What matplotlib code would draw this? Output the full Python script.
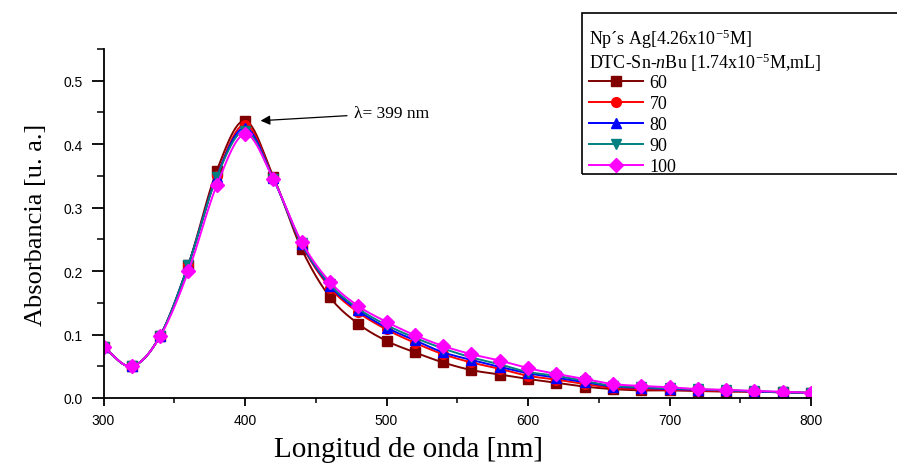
import numpy as np
import matplotlib
matplotlib.use("Agg")
import matplotlib.pyplot as plt
from matplotlib.lines import Line2D
from matplotlib.patches import Rectangle
from matplotlib.ticker import MultipleLocator

plt.rcParams['mathtext.fontset'] = 'custom'
plt.rcParams['mathtext.rm'] = 'Liberation Serif'
plt.rcParams['mathtext.it'] = 'Liberation Serif:italic'

# ---------------- data ----------------
wavelength = [300, 320, 340, 360, 380, 400, 420, 440, 460, 480, 500, 520, 540,
              560, 580, 600, 620, 640, 660, 680, 700, 720, 740, 760, 780, 800]

abs_60 = [0.080, 0.050, 0.098, 0.210, 0.358, 0.437, 0.349, 0.235, 0.159, 0.117, 0.090, 0.072, 0.056,
          0.044, 0.037, 0.030, 0.024, 0.018, 0.014, 0.012, 0.012, 0.011, 0.010, 0.010, 0.009, 0.008]
abs_70 = [0.080, 0.050, 0.098, 0.210, 0.350, 0.431, 0.347, 0.242, 0.174, 0.135, 0.108, 0.087, 0.069,
          0.056, 0.046, 0.035, 0.029, 0.022, 0.016, 0.014, 0.013, 0.012, 0.011, 0.010, 0.009, 0.008]
abs_80 = [0.080, 0.050, 0.098, 0.210, 0.349, 0.426, 0.346, 0.243, 0.177, 0.138, 0.111, 0.091, 0.072,
          0.060, 0.049, 0.039, 0.032, 0.025, 0.018, 0.016, 0.014, 0.013, 0.012, 0.010, 0.009, 0.008]
abs_90 = [0.080, 0.050, 0.098, 0.210, 0.348, 0.421, 0.345, 0.244, 0.179, 0.141, 0.115, 0.095, 0.078,
          0.064, 0.053, 0.041, 0.035, 0.027, 0.019, 0.017, 0.015, 0.014, 0.012, 0.011, 0.009, 0.008]
abs_100 = [0.080, 0.050, 0.097, 0.200, 0.335, 0.416, 0.345, 0.246, 0.183, 0.145, 0.120, 0.099, 0.082,
           0.069, 0.059, 0.047, 0.038, 0.030, 0.022, 0.019, 0.017, 0.014, 0.013, 0.011, 0.010, 0.008]

series_labels = ['60', '70', '80', '90', '100']
series_values = [abs_60, abs_70, abs_80, abs_90, abs_100]
colors = ['#800000', '#FF0000', '#0000FF', '#008080', '#FF00FF']
markers = ['s', 'o', '^', 'v', 'D']

x_label = 'Longitud de onda [nm]'
y_label = 'Absorbancia [u. a.]'
legend_title = 'Np´s Ag[4.26x10$^{-5}$M]\nDTC-Sn-$\\mathit{n}$Bu [1.74x10$^{-5}$M,mL]'
peak_text = 'λ= 399 nm'


def smooth(x, y, n=12):
    """Catmull-Rom curve through the data points (drawing only)."""
    P = np.column_stack([np.asarray(x, float), np.asarray(y, float)])
    P = np.vstack([2 * P[0] - P[1], P, 2 * P[-1] - P[-2]])
    out = []
    t = np.linspace(0, 1, n, endpoint=False)[:, None]
    for i in range(1, len(P) - 2):
        p0, p1, p2, p3 = P[i - 1], P[i], P[i + 1], P[i + 2]
        seg = 0.5 * ((2 * p1) + (-p0 + p2) * t + (2 * p0 - 5 * p1 + 4 * p2 - p3) * t ** 2
                     + (-p0 + 3 * p1 - 3 * p2 + p3) * t ** 3)
        out.append(seg)
    out.append(P[-2][None, :])
    out = np.vstack(out)
    return out[:, 0], out[:, 1]


fig = plt.figure(figsize=(8.97, 4.64), dpi=100)
ax = fig.add_axes([103.5 / 897, 1 - 399 / 464, (811 - 103.5) / 897, (399 - 50) / 464])

handles = []
for vals, lab, c, m in zip(series_values, series_labels, colors, markers):
    sx, sy = smooth(wavelength, vals)
    ax.plot(sx, sy, color=c, lw=1.4, clip_on=True)
    ax.plot(wavelength, vals, ls='none', marker=m, color=c, markersize=7,
            markeredgecolor=c, clip_on=True)
    handles.append(Line2D([], [], color=c, lw=1.4, marker=m, markersize=7, label=lab))

ax.set_xlim(300, 800)
ax.set_ylim(0, 0.55)
ax.xaxis.set_major_locator(MultipleLocator(100))
ax.xaxis.set_minor_locator(MultipleLocator(50))
ax.yaxis.set_major_locator(MultipleLocator(0.1))
ax.yaxis.set_minor_locator(MultipleLocator(0.05))
ax.yaxis.set_major_formatter(matplotlib.ticker.FormatStrFormatter('%.1f'))

for s in ['top', 'right']:
    ax.spines[s].set_visible(False)
for s in ['left', 'bottom']:
    ax.spines[s].set_linewidth(1.3)

ax.tick_params(axis='x', which='major', direction='out', length=6, width=1.3, pad=5)
ax.tick_params(axis='x', which='minor', direction='out', length=3.5, width=1.1)
ax.tick_params(axis='y', which='major', direction='out', length=9, width=1.3, pad=6)
ax.tick_params(axis='y', which='minor', direction='out', length=5, width=1.1)
for lbl in ax.get_xticklabels() + ax.get_yticklabels():
    lbl.set_family('Liberation Sans')
    lbl.set_fontsize(10)

ax.set_xlabel(x_label, family='Liberation Serif', fontsize=21, labelpad=8)
ax.xaxis.set_label_coords((408 - 103.5) / 707.5, -0.11)
ax.set_ylabel(y_label, family='Liberation Serif', fontsize=19, labelpad=12)

ax.annotate(peak_text, xy=(411, 0.437), xytext=(477, 0.449),
            family='Liberation Serif', fontsize=12.5, va='center', ha='left',
            arrowprops=dict(arrowstyle='-|>', color='black', lw=0.9,
                            mutation_scale=14, shrinkA=3, shrinkB=0))

leg = fig.legend(handles=handles, title=legend_title, loc='upper left',
                 bbox_to_anchor=(589 / 897, 1 - 28 / 464), frameon=False,
                 prop={'family': 'Liberation Serif', 'size': 13},
                 title_fontproperties={'family': 'Liberation Serif', 'size': 13},
                 alignment='left', handlelength=3.0, handletextpad=0.35,
                 labelspacing=0.22, borderaxespad=0, borderpad=0)
leg.get_title().set_linespacing(1.0)
leg._legend_box.sep = 1

fig.patches.append(Rectangle((581.5 / 897, 1 - 175 / 464), 0.5, (175 - 13.5) / 464,
                             transform=fig.transFigure, fill=False, ec='black', lw=1.2))

fig.savefig('out.png', dpi=100)
